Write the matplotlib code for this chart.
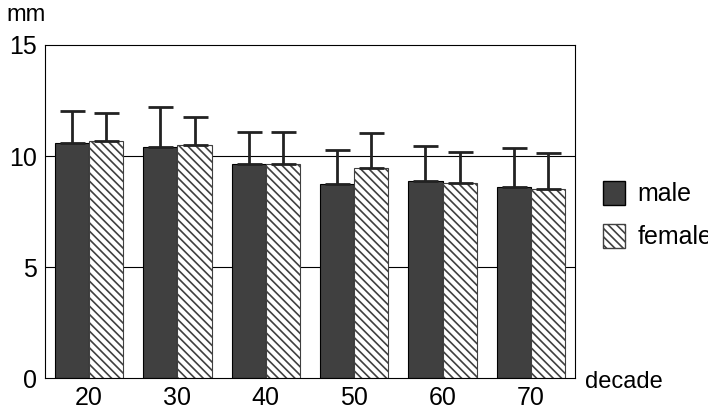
import matplotlib
matplotlib.use("Agg")
import matplotlib.pyplot as plt
import numpy as np
from matplotlib.patches import Patch

plt.rcParams['hatch.linewidth'] = 1.2
plt.rcParams['font.family'] = "Liberation Sans"
decades = ["20", "30", "40", "50", "60", "70"]
male = [10.58, 10.4, 9.64, 8.74, 8.87, 8.6]
male_sd = [1.45, 1.8, 1.46, 1.53, 1.58, 1.76]
female = [10.68, 10.5, 9.64, 9.46, 8.78, 8.51]
female_sd = [1.26, 1.26, 1.46, 1.58, 1.4, 1.63]

fig = plt.figure(figsize=(7.08, 4.15), dpi=100)
ax = fig.add_axes([45/708, 1-378/415, 530/708, 333/415])
x = np.arange(len(decades))
w = 0.385
ekw = dict(ecolor="#222222", capsize=9, elinewidth=2, capthick=2)
ax.bar(x - w/2, male, w, color="#404040", edgecolor="black", lw=0.8,
       yerr=[np.zeros(6), male_sd], error_kw=ekw)
ax.bar(x + w/2, female, w, color="white", edgecolor="#404040", hatch="\\\\\\\\", lw=0.8,
       yerr=[np.zeros(6), female_sd], error_kw=ekw)
ax.set_ylim(0, 15)
ax.set_xlim(-0.5, 5.5)
ax.set_yticks([0, 5, 10, 15])
ax.set_xticks(x)
ax.set_xticklabels(decades)
ax.tick_params(labelsize=18, length=0, pad=6)
for v in (5, 10):
    ax.axhline(v, color="black", lw=0.8, zorder=0)
ax.set_axisbelow(True)
fig.text(6/708, 1-15/415, "mm", fontsize=17, va="center")
fig.text(585/708, 1-382/415, "decade", fontsize=17, va="center")
handles = [Patch(facecolor="#404040", edgecolor="black"),
           Patch(facecolor="white", edgecolor="#404040", hatch="\\\\\\\\")]
fig.legend(handles, ["male", "female"], loc="center left", bbox_to_anchor=(580/708, 1-215/415),
           frameon=False, fontsize=18, handlelength=0.9, handleheight=1.1,
           handletextpad=0.5, labelspacing=0.7)
fig.savefig("out.png", dpi=100)
